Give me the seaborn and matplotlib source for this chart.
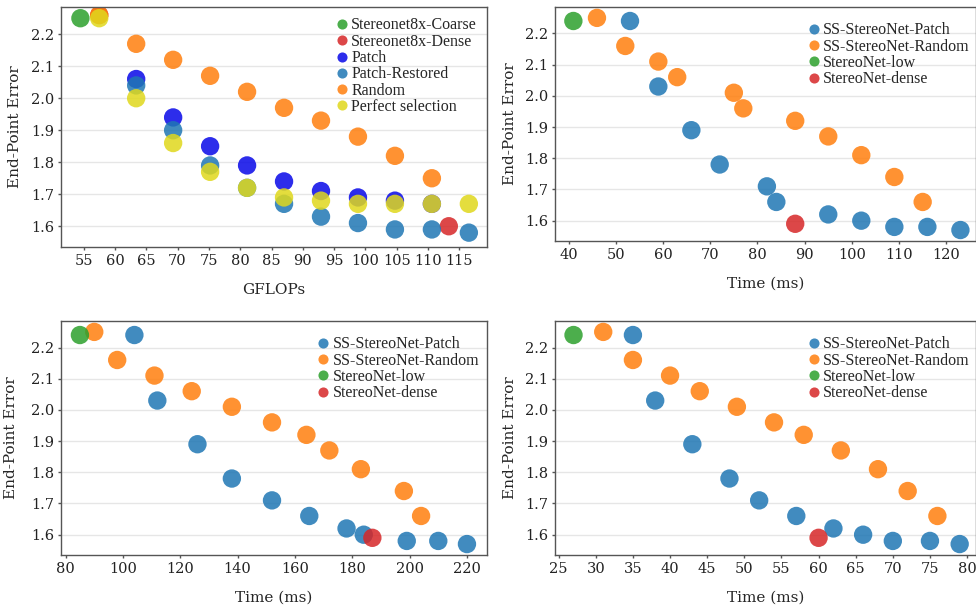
import numpy as np
import pandas as pd
import matplotlib
matplotlib.use("Agg")
import matplotlib.pyplot as plt
import seaborn as sns

sns.set_style("white")
plt.rcParams["font.family"] = ["DejaVu Serif"]

# ---- panel 1 : GFLOPs ----
gf_coarse_x = [54.5]
gf_coarse_y = [2.25]
gf_dense_x = [57.5, 113.3]
gf_dense_y = [2.26, 1.60]
gf_patch_x = [63.4, 69.3, 75.2, 81.1, 87.0, 92.9, 98.8, 104.7, 110.6]
gf_patch_y = [2.06, 1.94, 1.85, 1.79, 1.74, 1.71, 1.69, 1.68, 1.67]
gf_rest_x = [63.4, 69.3, 75.2, 81.1, 87.0, 92.9, 98.8, 104.7, 110.6, 116.5]
gf_rest_y = [2.04, 1.90, 1.79, 1.72, 1.67, 1.63, 1.61, 1.59, 1.59, 1.58]
gf_rand_x = [57.5, 63.4, 69.3, 75.2, 81.1, 87.0, 92.9, 98.8, 104.7, 110.6]
gf_rand_y = [2.26, 2.17, 2.12, 2.07, 2.02, 1.97, 1.93, 1.88, 1.82, 1.75]
gf_perf_x = [57.5, 63.4, 69.3, 75.2, 81.1, 87.0, 92.9, 98.8, 104.7, 110.6, 116.5]
gf_perf_y = [2.25, 2.00, 1.86, 1.77, 1.72, 1.69, 1.68, 1.67, 1.67, 1.67, 1.67]

# ---- timing panels (shared y values) ----
patch_y = [2.24, 2.03, 1.89, 1.78, 1.71, 1.66, 1.62, 1.60, 1.58, 1.58, 1.57]
rand_y = [2.25, 2.16, 2.11, 2.06, 2.01, 1.96, 1.92, 1.87, 1.81, 1.74, 1.66]
low_y = [2.24]
dense_y = [1.59]

t1_patch_x = [53, 59, 66, 72, 82, 84, 95, 102, 109, 116, 123]
t1_rand_x = [46, 52, 59, 63, 75, 77, 88, 95, 102, 109, 115]
t1_low_x = [41]
t1_dense_x = [88]

t2_patch_x = [104, 112, 126, 138, 152, 165, 178, 184, 199, 210, 220]
t2_rand_x = [90, 98, 111, 124, 138, 152, 164, 172, 183, 198, 204]
t2_low_x = [85]
t2_dense_x = [187]

t3_patch_x = [35, 38, 43, 48, 52, 57, 62, 66, 70, 75, 79]
t3_rand_x = [31, 35, 40, 44, 49, 54, 58, 63, 68, 72, 76]
t3_low_x = [27]
t3_dense_x = [60]

gf_labels = ["Stereonet8x-Coarse", "Stereonet8x-Dense", "Patch",
             "Patch-Restored", "Random", "Perfect selection"]
gf_colors = ["#2ca02c", "#d62728", "#0808e8", "#1f77b4", "#ff7f0e", "#e0d81c"]
t_labels = ["SS-StereoNet-Patch", "SS-StereoNet-Random",
            "StereoNet-low", "StereoNet-dense"]
t_colors = ["#1f77b4", "#ff7f0e", "#2ca02c", "#d62728"]


def make_df(xs, ys, labels):
    rows = []
    for x, y, lab in zip(xs, ys, labels):
        for a, b in zip(x, y):
            rows.append((a, b, lab))
    return pd.DataFrame(rows, columns=["x", "y", "series"])


def style_ax(ax, xlim, xticks, xlabel, xlab_y, ylab_x):
    ax.set_xlim(*xlim)
    ax.set_ylim(1.535, 2.285)
    ax.set_xticks(xticks)
    ax.set_yticks(np.arange(1.6, 2.21, 0.1))
    ax.yaxis.set_major_formatter(matplotlib.ticker.FormatStrFormatter("%.1f"))
    ax.grid(axis="y", color="#e6e6e6", lw=1)
    ax.set_axisbelow(True)
    for s in ax.spines.values():
        s.set_color("#555555")
        s.set_linewidth(1)
    ax.tick_params(axis="both", length=2.5, width=1, color="#555555",
                   labelsize=10.5, labelcolor="#222222", direction="out",
                   bottom=True, left=True, pad=2.5)
    ax.set_xlabel(xlabel, fontsize=11)
    ax.set_ylabel("End-Point Error", fontsize=11)
    ax.xaxis.set_label_coords(0.5, xlab_y)
    ax.yaxis.set_label_coords(ylab_x, 0.5)


fig = plt.figure(figsize=(9.76, 6.10), dpi=100)
ax1 = fig.add_axes([0.0625, 0.595, 0.4365, 0.3935])
ax2 = fig.add_axes([0.5686, 0.605, 0.4314, 0.3836])
ax3 = fig.add_axes([0.0625, 0.0902, 0.4365, 0.3836])
ax4 = fig.add_axes([0.5686, 0.0902, 0.4314, 0.3836])

df1 = make_df([gf_coarse_x, gf_dense_x, gf_patch_x, gf_rest_x, gf_rand_x, gf_perf_x],
              [gf_coarse_y, gf_dense_y, gf_patch_y, gf_rest_y, gf_rand_y, gf_perf_y],
              gf_labels)
sns.scatterplot(data=df1, x="x", y="y", hue="series", palette=gf_colors,
                hue_order=gf_labels, s=175, alpha=0.85, linewidth=0, ax=ax1)
style_ax(ax1, (51.4, 119.4), np.arange(55, 116, 5), "GFLOPs", -0.15, -0.092)

panels = [(ax2, t1_patch_x, t1_rand_x, t1_low_x, t1_dense_x, (37.1, 126.3),
           np.arange(40, 121, 10), -0.090),
          (ax3, t2_patch_x, t2_rand_x, t2_low_x, t2_dense_x, (78.4, 227.0),
           np.arange(80, 221, 20), -0.101),
          (ax4, t3_patch_x, t3_rand_x, t3_low_x, t3_dense_x, (24.5, 81.2),
           np.arange(25, 81, 5), -0.090)]
for ax, px, rx, lx, dx, xl, xt, ylx in panels:
    df = make_df([px, rx, lx, dx], [patch_y, rand_y, low_y, dense_y], t_labels)
    sns.scatterplot(data=df, x="x", y="y", hue="series", palette=t_colors,
                    hue_order=t_labels, s=175, alpha=0.85, linewidth=0, ax=ax)
    style_ax(ax, xl, xt, "Time (ms)", -0.154, ylx)

leg_pos = {ax1: (0.625, 0.983), ax2: (0.58, 0.962), ax3: (0.582, 0.962), ax4: (0.58, 0.962)}
for ax, pos in leg_pos.items():
    ax.legend(loc="upper left", bbox_to_anchor=pos, frameon=False,
              prop={"family": "Liberation Serif", "size": 11.5},
              handletextpad=0.1, labelspacing=0.02, borderaxespad=0,
              markerscale=0.55, handlelength=1.0)

fig.savefig("out.png", dpi=100)
